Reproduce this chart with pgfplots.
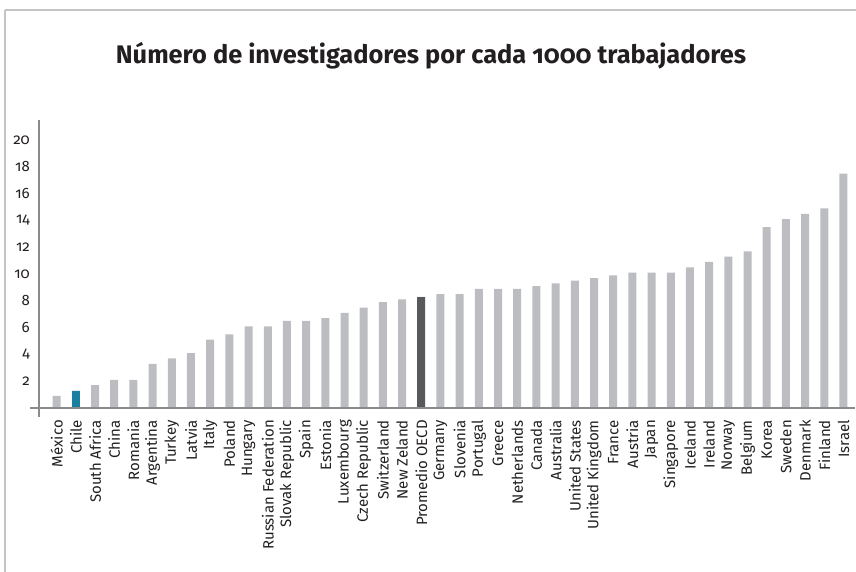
\documentclass[border=0pt]{standalone}
\usepackage{pgfplots}
\pgfplotsset{compat=1.18}
\usepackage{pgfplotstable}
\usepackage{fontspec}
\setmainfont{Fira Sans}[Numbers=OldStyle]
\definecolor{bargray}{HTML}{BCBDC0}
\definecolor{chileblue}{HTML}{1A7FA0}
\definecolor{oecddark}{HTML}{58595B}
\definecolor{axisgray}{HTML}{8A8A8A}
\definecolor{framegray}{HTML}{C4C4C6}
\definecolor{txt}{HTML}{231F20}
\pgfplotstableread{
x y
0 0.9
1 1.3
2 1.7
3 2.1
4 2.1
5 3.3
6 3.7
7 4.1
8 5.1
9 5.5
10 6.1
11 6.1
12 6.5
13 6.5
14 6.7
15 7.1
16 7.5
17 7.9
18 8.1
19 8.3
20 8.5
21 8.5
22 8.9
23 8.9
24 8.9
25 9.1
26 9.3
27 9.5
28 9.7
29 9.9
30 10.1
31 10.1
32 10.1
33 10.5
34 10.9
35 11.3
36 11.7
37 13.5
38 14.1
39 14.5
40 14.9
41 17.5
}\datatable
\begin{document}
\begin{tikzpicture}[x=1pt,y=1pt]
\path[use as bounding box] (0,0) rectangle (856,572);
\draw[framegray,line width=2.2pt] (5,562) -- (856,562);
\draw[framegray,line width=2.2pt] (5,562) -- (5,0);
\node[txt,font=\bfseries\fontsize{25.4}{30}\selectfont] at (431,516) {Número de investigadores por cada 1000 trabajadores};
\begin{axis}[
  at={(39pt,164pt)}, anchor=south west,
  scale only axis, width=816pt, height=288pt,
  xmin=-0.92, xmax=41.6, ymin=0, ymax=21.5,
  axis line style={draw=none}, clip=false,
  ybar, bar width=8pt,
  xtick=data,
  xticklabels={México,Chile,South Africa,China,Romania,Argentina,Turkey,Latvia,Italy,Poland,Hungary,Russian Federation,Slovak Republic,Spain,Estonia,Luxembourg,Czech Republic,Switzerland,New Zeland,Promedio OECD,Germany,Slovenia,Portugal,Greece,Netherlands,Canada,Australia,United States,United Kingdom,France,Austria,Japan,Singapore,Iceland,Ireland,Norway,Belgium,Korea,Sweden,Denmark,Finland,Israel},
  xticklabel style={yshift=-12pt, rotate=90, anchor=east, font=\fontsize{15}{17}\selectfont, text=txt, inner sep=0pt},
  ytick={2,4,...,20},
  yticklabel style={xshift=-9pt, font=\fontsize{15}{17}\selectfont, text=txt, anchor=east, inner sep=0pt},
  major tick length=0pt,
  tick style={draw=none},
  xtick pos=bottom, ytick pos=left,
  /pgf/number format/assume math mode=true,
]
\addplot[fill=bargray, draw=none, bar shift=0pt] table[x=x,y=y] {\datatable};
\addplot[fill=chileblue, draw=none, bar shift=0pt] coordinates {(1,1.3)};
\addplot[fill=oecddark, draw=none, bar shift=0pt] coordinates {(19,8.3)};
\draw[axisgray, line width=1.2pt] ([xshift=-9pt]rel axis cs:0,0) -- (rel axis cs:1,0);
\draw[axisgray, line width=1.2pt] ([yshift=-9pt]rel axis cs:0,0) -- (rel axis cs:0,1);
\end{axis}
\end{tikzpicture}
\end{document}
